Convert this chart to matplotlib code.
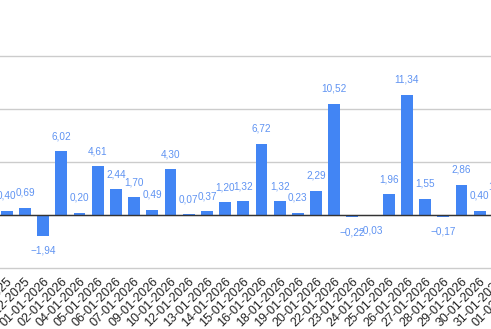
import matplotlib.pyplot as plt
import matplotlib.transforms as mtransforms

# daily values, one bar per date
dates = ['30-12-2025', '31-12-2025', '01-01-2026', '02-01-2026', '04-01-2026',
         '05-01-2026', '06-01-2026', '07-01-2026', '09-01-2026', '10-01-2026',
         '12-01-2026', '13-01-2026', '14-01-2026', '15-01-2026', '16-01-2026',
         '18-01-2026', '19-01-2026', '20-01-2026', '22-01-2026', '23-01-2026',
         '24-01-2026', '25-01-2026', '26-01-2026', '27-01-2026', '28-01-2026',
         '29-01-2026', '30-01-2026', '31-01-2026', '01-02-2026']
values = [0.40, 0.69, -1.94, 6.02, 0.20,
          4.61, 2.44, 1.70, 0.49, 4.30,
          0.07, 0.37, 1.20, 1.32, 6.72,
          1.32, 0.23, 2.29, 10.52, -0.22,
          -0.03, 1.96, 11.34, 1.55, -0.17,
          2.86, 0.40, 1.25]
y_ticks = [-5, 0, 5, 10, 15]

bar_color = '#4285f4'
label_color = '#5f93f2'

plt.rcParams['font.family'] = ['Liberation Sans', 'DejaVu Sans']

fig = plt.figure(figsize=(4.91, 3.29), dpi=100)
# plot area is wider than the canvas, so the ends of the series run off the edges
ax = fig.add_axes([-2.3 / 491, 61 / 329, 527.5 / 491, 268 / 329])

x = list(range(len(values)))
ax.bar(x, values, width=0.65, color=bar_color, zorder=3)

for xi, v in zip(x, values):
    txt = f'{v:.2f}'.replace('.', ',').replace('-', '\u2212')
    off = 10.8 if v >= 0 else -10.8
    ax.annotate(txt, (xi, v), xytext=(0, off), textcoords='offset points',
                ha='center', va='center', fontsize=7.2, color=label_color,
                annotation_clip=False)

ax.set_xlim(-0.5, len(dates) - 0.5)
ax.set_ylim(-5, 20.3)
ax.set_yticks(y_ticks)
ax.yaxis.grid(True, color='#cccccc', linewidth=1, zorder=0)
for gl in ax.get_ygridlines():
    gl.set_clip_on(False)
ax.axhline(0, color='#333333', linewidth=1, zorder=4)
ax.tick_params(axis='y', left=False, labelleft=False)
for s in ax.spines.values():
    s.set_visible(False)

ax.set_xticks(range(len(dates)))
ax.set_xticklabels(dates, rotation=45, ha='right', va='center',
                   rotation_mode='anchor', fontsize=9, color='#222222')
ax.tick_params(axis='x', length=0, pad=8.6)
shift = mtransforms.ScaledTranslation(4 / 100, 0, fig.dpi_scale_trans)
for lbl in ax.get_xticklabels():
    lbl.set_transform(lbl.get_transform() + shift)

fig.savefig('out.png', dpi=100)
